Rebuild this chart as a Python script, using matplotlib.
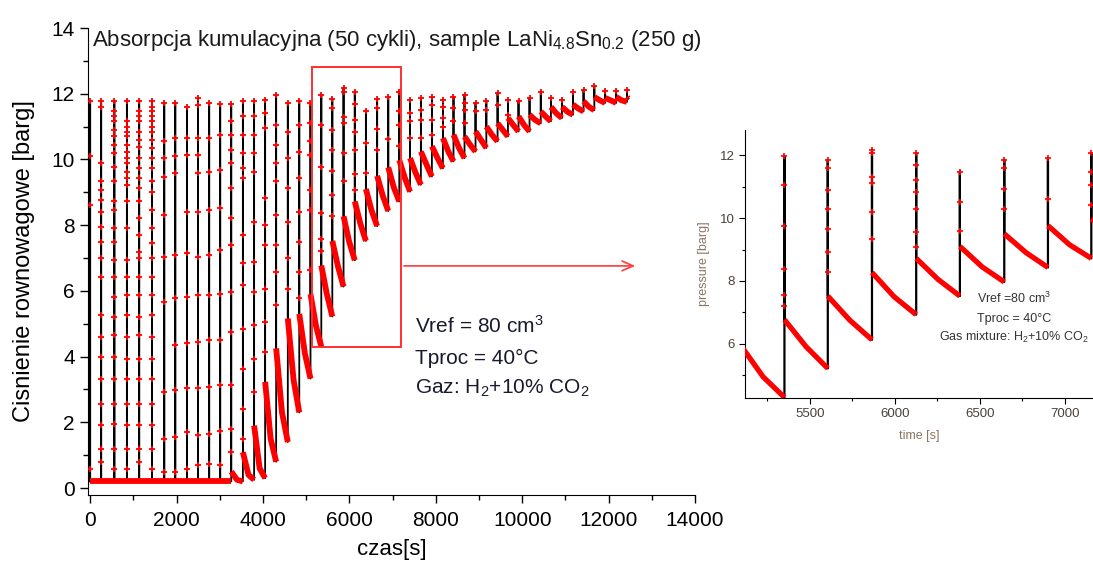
import matplotlib.pyplot as plt
from matplotlib.ticker import MultipleLocator

plt.rcParams['font.family'] = ['Liberation Sans Narrow', 'Liberation Sans', 'DejaVu Sans']
plt.rcParams['mathtext.default'] = 'regular'

# poczatki cykli [s]
t_start = [0, 255, 560, 850, 1135, 1430, 1715, 1970, 2240, 2495,
           2755, 3010, 3265, 3535, 3795, 4050, 4305, 4575, 4840, 5100,
           5350, 5605, 5865, 6125, 6382, 6643, 6900, 7155, 7405, 7655,
           7910, 8165, 8410, 8665, 8920, 9170, 9430, 9670, 9915, 10170,
           10430, 10665, 10920, 11175, 11420, 11670, 11920, 12175, 12425]
t_stop = 12460
p_base = 0.2

# cisnienie max po napelnieniu [barg]
p_peak = [11.77, 11.77, 11.77, 11.77, 11.77, 11.77, 11.71, 11.71, 11.61, 11.87,
          11.71, 11.68, 11.68, 11.77, 11.79, 11.82, 11.97, 11.71, 11.77, 11.72,
          11.96, 11.85, 12.17, 12.06, 11.48, 11.85, 11.90, 12.06, 11.82, 11.87,
          11.90, 11.80, 11.90, 11.97, 11.72, 11.77, 12.02, 11.80, 11.77, 11.87,
          12.04, 11.87, 11.82, 12.04, 12.10, 12.23, 12.07, 12.07, 12.12]

# cisnienie po szybkim spadku, w polowie cyklu, na koncu cyklu
p_knee = [0.2] * 12 + [0.5, 1.09, 1.9, 3.23, 4.25, 5.16, 5.3, 5.9,
          6.77, 7.52, 8.27, 8.72, 9.1, 9.5, 9.76, 9.98, 10.04, 10.24,
          10.4, 10.65, 10.75, 10.7, 10.85, 11.0, 11.1, 11.26, 11.31, 11.36,
          11.46, 11.6, 11.6, 11.67, 11.77, 11.9, 11.87, 11.9, 11.9]
p_mid = [0.2] * 12 + [0.25, 0.4, 0.6, 1.5, 2.3, 3.3, 4.1, 4.95,
         5.91, 6.75, 7.5, 8.05, 8.45, 8.9, 9.15, 9.45, 9.6, 9.85,
         10.05, 10.25, 10.35, 10.45, 10.6, 10.75, 10.9, 11.05, 11.05, 11.2,
         11.3, 11.4, 11.45, 11.55, 11.6, 11.8, 11.8, 11.8, 11.87]
p_end = [0.2] * 12 + [0.2, 0.25, 0.3, 0.8, 1.4, 2.3, 3.33, 4.3,
         5.22, 6.13, 6.93, 7.52, 7.97, 8.43, 8.72, 9.02, 9.23, 9.48,
         9.73, 9.94, 10.04, 10.24, 10.35, 10.55, 10.7, 10.85, 10.85, 11.1,
         11.16, 11.26, 11.36, 11.46, 11.5, 11.72, 11.72, 11.75, 11.85]

# punkty pomiarowe w czasie szybkiego spadku
p_drop = [
    [10.1, 8.6, 0.59],
    [11.6, 9.9, 9.33, 9.07, 8.77, 8.41, 7.95, 7.5, 6.99, 6.43, 5.26, 4.6, 3.99, 3.33, 2.57, 1.91, 1.2, 0.79],
    [11.46, 11.31, 11.16, 10.9, 10.7, 10.44, 10.19, 9.78, 9.33, 8.72, 8.46, 7.9, 7.5, 6.94, 6.43, 5.82,
     5.21, 4.65, 3.99, 3.33, 2.57, 1.96, 1.2, 0.59],
    [11.16, 11.0, 10.85, 10.7, 10.44, 10.24, 10.04, 9.88, 9.63, 9.43, 9.22, 8.72, 7.9, 6.94, 6.43, 5.87,
     5.26, 4.6, 3.94, 3.33, 2.57, 1.91, 1.2, 0.59],
    [11.46, 11.31, 11.16, 10.85, 10.6, 10.39, 10.04, 9.73, 9.43, 9.12, 8.72, 8.21, 7.7, 7.19, 6.99, 6.43,
     5.87, 5.21, 4.65, 3.94, 3.33, 2.57, 1.91, 1.2, 0.79],
    [11.61, 11.46, 11.31, 11.16, 11.0, 10.85, 10.6, 10.34, 10.04, 9.73, 9.33, 9.02, 8.46, 7.9, 7.45, 6.99,
     6.43, 5.87, 5.26, 4.6, 3.94, 3.33, 2.57, 1.91, 1.2, 0.59],
    [10.55, 10.04, 9.48, 8.31, 7.04, 5.67, 2.92, 1.5, 0.48],
    [10.65, 10.09, 9.58, 7.09, 5.77, 4.35, 2.97, 1.55, 0.48],
    [10.65, 10.14, 8.41, 7.14, 5.82, 4.4, 3.03, 1.7, 0.59],
    [11.66, 10.65, 10.14, 9.58, 8.41, 7.04, 5.87, 4.45, 3.03, 1.6, 0.69],
    [10.65, 9.63, 8.46, 7.09, 5.87, 4.5, 3.08, 1.65, 0.74],
    [10.75, 9.68, 8.51, 7.24, 5.92, 4.5, 3.13, 1.75, 0.69],
    [11.16, 10.75, 10.29, 9.89, 9.12, 8.21, 7.4, 5.97, 4.75, 3.13, 1.8, 1.09],
    [11.31, 10.75, 10.19, 9.73, 9.43, 7.7, 6.84, 6.18, 4.85, 3.63, 2.42, 1.5],
    [11.31, 10.75, 10.19, 9.63, 8.11, 6.89, 5.97, 4.96, 3.94, 2.92],
    [11.41, 10.95, 8.82, 8.0, 7.4, 6.07, 5.06, 4.14],
    [11.05, 10.44, 9.89, 9.33, 8.31, 7.4, 6.58, 5.57],
    [10.85, 10.04, 9.12, 8.11, 6.99, 6.07],
    [11.05, 10.24, 9.43, 8.41, 7.5, 6.58, 5.77],
    [11.11, 10.55, 10.14, 9.07, 8.46, 6.64],
    [11.05, 9.76, 8.37, 7.57, 7.2],
    [11.58, 10.89, 10.3, 9.66, 8.91, 8.27],
    [12.06, 11.3, 11.1, 10.19, 9.34],
    [11.69, 11.2, 10.83, 10.3, 9.55, 9.07],
    [10.5, 9.6],
    [11.58, 10.94, 10.3],
    [10.62],
    [11.48, 11.05, 10.4],
    [11.41, 11.16, 10.65],
    [11.51, 11.21, 10.65],
    [11.67, 11.21, 10.75],
    [11.61, 11.26, 11.0],
    [11.56, 11.16],
    [11.72, 11.51, 11.11],
    [11.46],
    [11.51],
    [11.67],
    [11.36],
    [], [], [], [], [], [], [], [], [], [], [],
]

# skladanie przebiegu
t_line, p_line = [], []
t_dots, p_dots = [], []
decays = []
prev = p_base
for k, t0 in enumerate(t_start):
    t1 = t_start[k + 1] if k + 1 < len(t_start) else t_stop
    tm = (t0 + t1) / 2
    t_line += [t0, t0] + [t0] * len(p_drop[k]) + [t0, tm, t1]
    p_line += [prev, p_peak[k]] + p_drop[k] + [p_knee[k], p_mid[k], p_end[k]]
    t_dots += [t0] * (1 + len(p_drop[k]))
    p_dots += [p_peak[k]] + p_drop[k]
    decays.append(([t0, tm, t1], [p_knee[k], p_mid[k], p_end[k]]))
    prev = p_end[k]

W, H = 1093, 561
fig = plt.figure(figsize=(W / 100, H / 100), dpi=100)

# --- wykres glowny ---
ax = fig.add_axes([88 / W, 1 - 494.6 / H, 607 / W, 466.6 / H])
ax.plot(t_line, p_line, color='black', lw=1.3, zorder=2)
for td, pd in decays:
    ax.plot(td, pd, color='red', lw=4.2, solid_capstyle='butt', zorder=3)
ax.plot(t_dots, p_dots, ls='none', marker='+', ms=4.5, mew=1.3, color='red', zorder=4)

ax.set_xlim(-50, 14000)
ax.set_ylim(-0.2, 14)
ax.spines['top'].set_visible(False)
ax.spines['right'].set_visible(False)
ax.xaxis.set_major_locator(MultipleLocator(2000))
ax.xaxis.set_minor_locator(MultipleLocator(1000))
ax.yaxis.set_major_locator(MultipleLocator(2))
ax.yaxis.set_minor_locator(MultipleLocator(1))
ax.tick_params(which='major', direction='out', length=6, width=1, labelsize=15, colors='black')
ax.tick_params(which='minor', direction='out', length=3.5, width=1)
ax.tick_params(axis='x', pad=6)
ax.set_xlabel('czas[s]', fontsize=16, labelpad=6)
ax.set_ylabel('Cisnienie rownowagowe [barg]', fontsize=17, labelpad=12)

fig.text(92 / W, 1 - 46 / H, 'Absorpcja kumulacyjna (50 cykli), sample LaNi$_{4.8}$Sn$_{0.2}$ (250 g)',
         fontsize=16, color='#1a1a1a', va='baseline')

# ramka powiekszenia i strzalka
ax.add_patch(plt.Rectangle((5138, 4.29), 7197 - 5138, 12.81 - 4.29, fill=False,
                           ec='#ff3030', lw=1.4, zorder=5))
ax.annotate('', xy=(12680, 6.76), xytext=(7197, 6.76),
            arrowprops=dict(arrowstyle='->,head_length=0.8,head_width=0.35', color='#ff3b3b', lw=1.2))

fig.text(415 / W, 1 - 333 / H, 'Vref = 80 cm$^3$', fontsize=15, color='#1a1a2e', va='baseline')
fig.text(415 / W, 1 - 364 / H, 'Tproc = 40°C', fontsize=15, color='#1a1a2e', va='baseline')
fig.text(415 / W, 1 - 394 / H, 'Gaz: H$_2$+10% CO$_2$', fontsize=15, color='#1a1a2e', va='baseline')

# --- wstawka ---
axi = fig.add_axes([745 / W, 1 - 398 / H, 348 / W, 268 / H])
axi.plot(t_line, p_line, color='black', lw=1.6, zorder=2)
for td, pd in decays:
    axi.plot(td, pd, color='red', lw=3.8, solid_capstyle='butt', zorder=3)
axi.plot(t_dots, p_dots, ls='none', marker='+', ms=4, mew=1.2, color='red', zorder=4)
axi.set_xlim(5118, 7165)
axi.set_ylim(4.28, 12.8)
axi.spines['top'].set_visible(False)
axi.spines['right'].set_visible(False)
axi.xaxis.set_major_locator(MultipleLocator(500))
axi.xaxis.set_minor_locator(MultipleLocator(250))
axi.yaxis.set_major_locator(MultipleLocator(2))
axi.yaxis.set_minor_locator(MultipleLocator(1))
axi.tick_params(which='major', direction='out', length=4, width=0.8, labelsize=9.5,
                labelcolor='#4a4038')
axi.tick_params(which='minor', direction='out', length=2.5, width=0.8)
axi.set_xlabel('time [s]', fontsize=9, color='#8c7462', labelpad=7)
axi.set_ylabel('pressure [barg]', fontsize=9, color='#8c7462', labelpad=7)

fig.text(1014 / W, 1 - 303 / H, 'Vref =80 cm$^3$', fontsize=9, color='#333333', ha='center', va='baseline')
fig.text(1014 / W, 1 - 322 / H, 'Tproc = 40°C', fontsize=9, color='#333333', ha='center', va='baseline')
fig.text(1014 / W, 1 - 341 / H, 'Gas mixture: H$_2$+10% CO$_2$', fontsize=9, color='#333333',
         ha='center', va='baseline')

fig.savefig('out.png', dpi=100)
